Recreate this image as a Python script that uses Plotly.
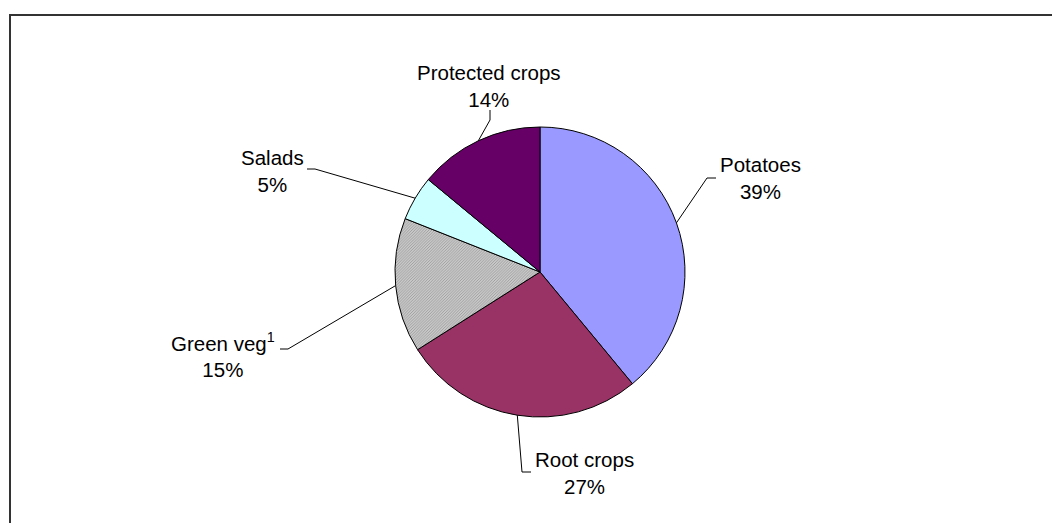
import math
import plotly.graph_objects as go

# Share of horticultural output by crop group
categories = ["Potatoes", "Root crops", "Green veg<sup>1</sup>", "Salads", "Protected crops"]
values = [39, 27, 15, 5, 14]
colors = ["#9999FF", "#993366", "#C4C4C4", "#CCFFFF", "#660066"]

W, H = 1052, 523
cx, cy, R = 540, 272, 145          # pie centre and radius in pixels

# label block centres and leader-line elbows (pixels), per category
label_pos = [(760, 178), (584, 473), (223, 355), (272, 171), (489, 86)]
leader_elbow = [[(707, 178), (716, 178)],
                [(522, 472), (531, 472)],
                [(288, 349), (280, 349)],
                [(315, 169), (307, 169)],
                [(490, 120), (490, 110)]]

fig = go.Figure()

fig.add_trace(go.Pie(
    labels=categories,
    values=values,
    sort=False,
    direction="clockwise",
    rotation=0,
    textinfo="none",
    hoverinfo="label+percent",
    showlegend=False,
    marker=dict(
        colors=colors,
        line=dict(color="#000000", width=1),
        pattern=dict(
            shape=["", "", "/", "", ""],
            size=2,
            solidity=0.5,
            fgcolor=[colors[0], colors[1], "#9A9A9A", colors[3], colors[4]],
            bgcolor=[colors[0], colors[1], "#DCDCDC", colors[3], colors[4]],
            fillmode="replace",
        ),
    ),
    domain=dict(x=[(cx - R) / W, (cx + R) / W],
                y=[1 - (cy + R) / H, 1 - (cy - R) / H]),
))

# invisible pixel-space axes for the leader lines
fig.update_layout(
    xaxis=dict(range=[0, W], domain=[0, 1], visible=False, fixedrange=True),
    yaxis=dict(range=[H, 0], domain=[0, 1], visible=False, fixedrange=True),
)

total = sum(values)
cum = 0
shapes = []
annotations = []
for name, v, (lx, ly), elbow in zip(categories, values, label_pos, leader_elbow):
    theta = 2 * math.pi * (cum + v / 2) / total
    cum += v
    sx = cx + R * math.sin(theta)
    sy = cy - R * math.cos(theta)
    pts = [(sx, sy)] + elbow
    path = "M " + " L ".join(f"{px:.1f},{py:.1f}" for px, py in pts)
    shapes.append(dict(type="path", path=path, xref="x", yref="y",
                       line=dict(color="#000000", width=1)))
    pct = round(100 * v / total)
    annotations.append(dict(x=lx, y=ly, xref="x", yref="y",
                            text=f"{name}<br>{pct}%", showarrow=False,
                            xanchor="center", yanchor="middle", align="center",
                            font=dict(family="Liberation Sans, Arial, sans-serif",
                                      size=20.5, color="#000000")))

# chart frame
shapes.append(dict(type="rect", xref="paper", yref="paper",
                   x0=10 / W, x1=1.02, y0=-0.02, y1=1 - 15 / H,
                   line=dict(color="#333333", width=2), fillcolor="rgba(0,0,0,0)"))

fig.update_layout(
    width=W, height=H,
    margin=dict(l=0, r=0, t=0, b=0),
    paper_bgcolor="#FFFFFF",
    plot_bgcolor="rgba(0,0,0,0)",
    shapes=shapes,
    annotations=annotations,
)

fig.write_html("out.html")
